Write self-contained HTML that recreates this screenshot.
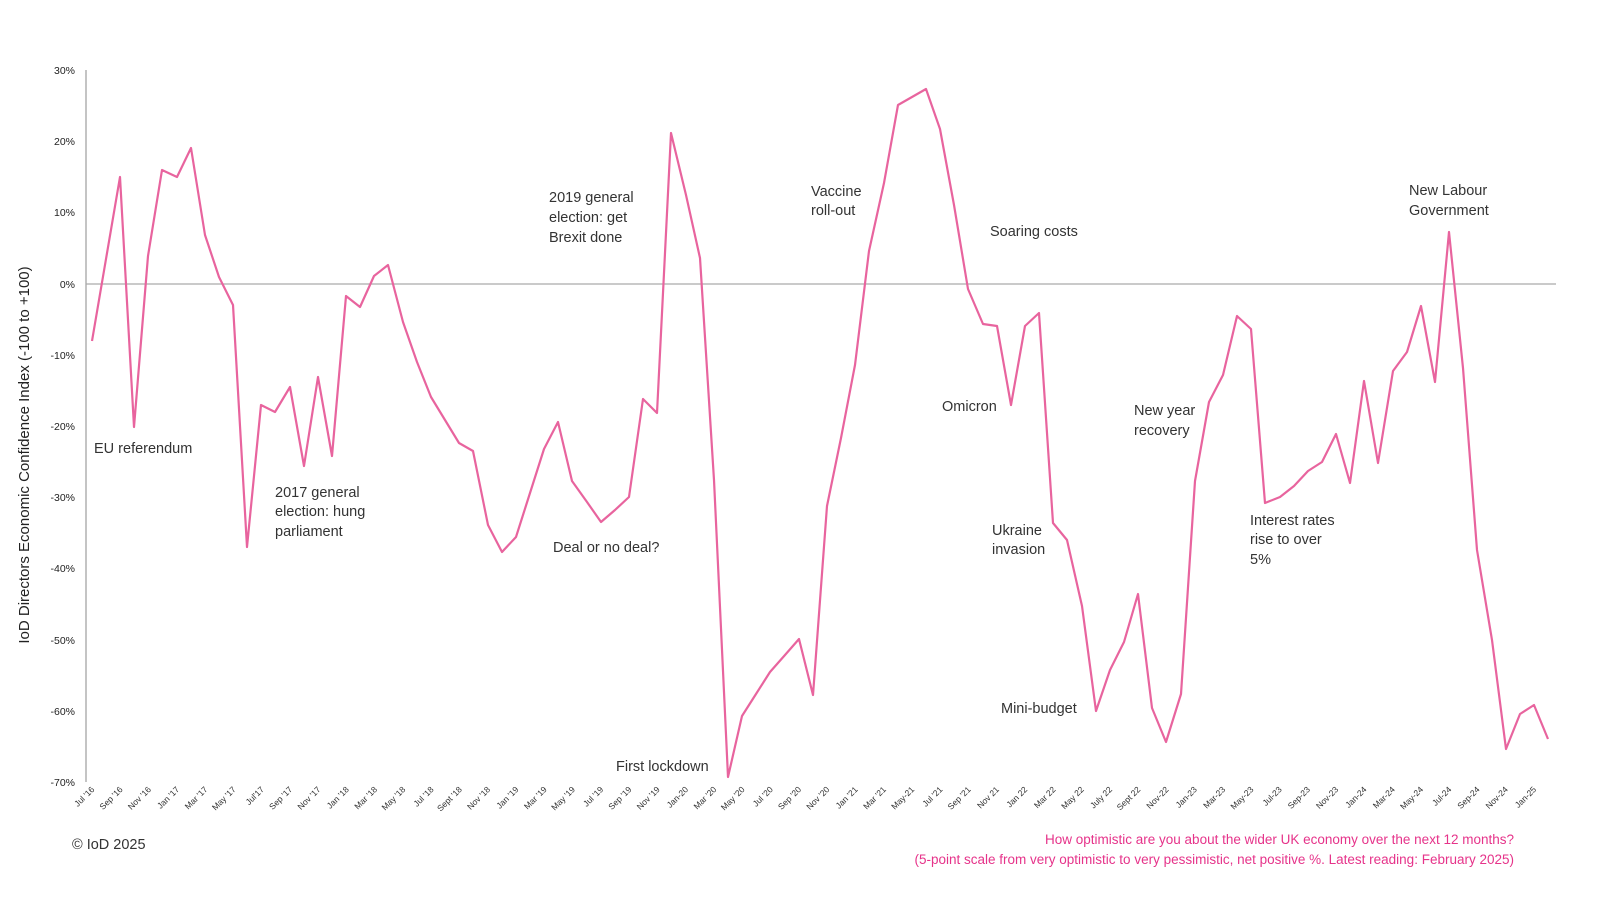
<!DOCTYPE html>
<html><head><meta charset="utf-8"><style>
body{margin:0;background:#fff;}
svg{display:block;font-family:"Liberation Sans",sans-serif;}
.a{font-size:14.5px;fill:#333;}
.y{font-size:10.5px;fill:#222;text-anchor:end;}
.x{font-size:8.5px;fill:#333;text-anchor:end;}
</style></head><body>
<svg width="1600" height="900" viewBox="0 0 1600 900">
<line x1="86" y1="70" x2="86" y2="782" stroke="#888" stroke-width="1"/>
<line x1="86" y1="284" x2="1556" y2="284" stroke="#aaa" stroke-width="1.2"/>
<g class="y">
<text x="75" y="74">30%</text><text x="75" y="145">20%</text><text x="75" y="216">10%</text><text x="75" y="288">0%</text>
<text x="75" y="359">-10%</text><text x="75" y="430">-20%</text><text x="75" y="501">-30%</text><text x="75" y="572">-40%</text>
<text x="75" y="644">-50%</text><text x="75" y="715">-60%</text><text x="75" y="786">-70%</text>
</g>
<text transform="translate(29,455) rotate(-90)" text-anchor="middle" font-size="15" fill="#222">IoD Directors Economic Confidence Index (-100 to +100)</text>
<polyline fill="none" stroke="#e8649e" stroke-width="2.2" stroke-linejoin="round" points="92,341 106,259 120,177 134,427 148,256 162,170 177,177 191,148 205,235 219,277 233,305 247,547 261,405 275,412 290,387 304,466 318,377 332,456 346,296 360,307 374,276 388,265 403,322 417,362 431,397 445,420 459,443 473,451 488,525 502,552 516,537 530,493 544,449 558,422 572,481 587,502 601,522 615,510 629,497 643,399 657,413 671,133 686,195 700,258 714,480 728,777 742,716 756,694 770,672 785,655 799,639 813,695 827,506 841,438 855,365 869,251 884,183 898,105 912,97 926,89 940,129 954,205 968,289 983,324 997,326 1011,405 1025,326 1039,313 1053,523 1067,540 1082,606 1096,711 1110,670 1124,642 1138,594 1152,708 1166,742 1181,694 1195,481 1209,402 1223,375 1237,316 1251,329 1265,503 1280,497 1294,486 1308,471 1322,462 1336,434 1350,483 1364,381 1378,463 1393,371 1407,352 1421,306 1435,382 1449,232 1463,368 1477,550 1492,640 1506,749 1520,714 1534,705 1548,739"/>
<g class="a">
<text x="94" y="453">EU referendum</text>
<text x="275" y="497">2017 general</text><text x="275" y="516">election: hung</text><text x="275" y="536">parliament</text>
<text x="549" y="202">2019 general</text><text x="549" y="222">election: get</text><text x="549" y="242">Brexit done</text>
<text x="553" y="552">Deal or no deal?</text>
<text x="616" y="771">First lockdown</text>
<text x="811" y="196">Vaccine</text><text x="811" y="215">roll-out</text>
<text x="990" y="236">Soaring costs</text>
<text x="942" y="411">Omicron</text>
<text x="992" y="535">Ukraine</text><text x="992" y="554">invasion</text>
<text x="1001" y="713">Mini-budget</text>
<text x="1134" y="415">New year</text><text x="1134" y="435">recovery</text>
<text x="1250" y="525">Interest rates</text><text x="1250" y="544">rise to over</text><text x="1250" y="564">5%</text>
<text x="1409" y="195">New Labour</text><text x="1409" y="215">Government</text>
</g>
<text x="72" y="849" font-size="14.5" fill="#333">© IoD 2025</text>
<text x="1514" y="844" font-size="13.5" fill="#e6338a" text-anchor="end">How optimistic are you about the wider UK economy over the next 12 months?</text>
<text x="1514" y="864" font-size="13.5" fill="#e6338a" text-anchor="end">(5-point scale from very optimistic to very pessimistic, net positive %. Latest reading: February 2025)</text>
<g class="x">
<script>
</script>
</g>
<g class="x" id="xl"></g>
</svg>
<script>
var L=["Jul '16","Sep '16","Nov '16","Jan '17","Mar '17","May '17","Jul'17","Sep '17","Nov '17","Jan '18","Mar '18","May '18","Jul '18","Sept '18","Nov '18","Jan '19","Mar '19","May '19","Jul '19","Sep '19","Nov '19","Jan-20","Mar '20","May '20","Jul '20","Sep '20","Nov '20","Jan '21","Mar '21","May-21","Jul '21","Sep '21","Nov 21","Jan 22","Mar 22","May 22","July 22","Sept 22","Nov-22","Jan-23","Mar-23","May-23","Jul-23","Sep-23","Nov-23","Jan-24","Mar-24","May-24","Jul-24","Sep-24","Nov-24","Jan-25"];
var g=document.getElementById('xl'),ns="http://www.w3.org/2000/svg";
for(var i=0;i<L.length;i++){var x=95+28.27*i,y=790;var t=document.createElementNS(ns,'text');t.setAttribute('transform','translate('+x+','+y+') rotate(-45)');t.textContent=L[i];g.appendChild(t);}
</script>
</body></html>
